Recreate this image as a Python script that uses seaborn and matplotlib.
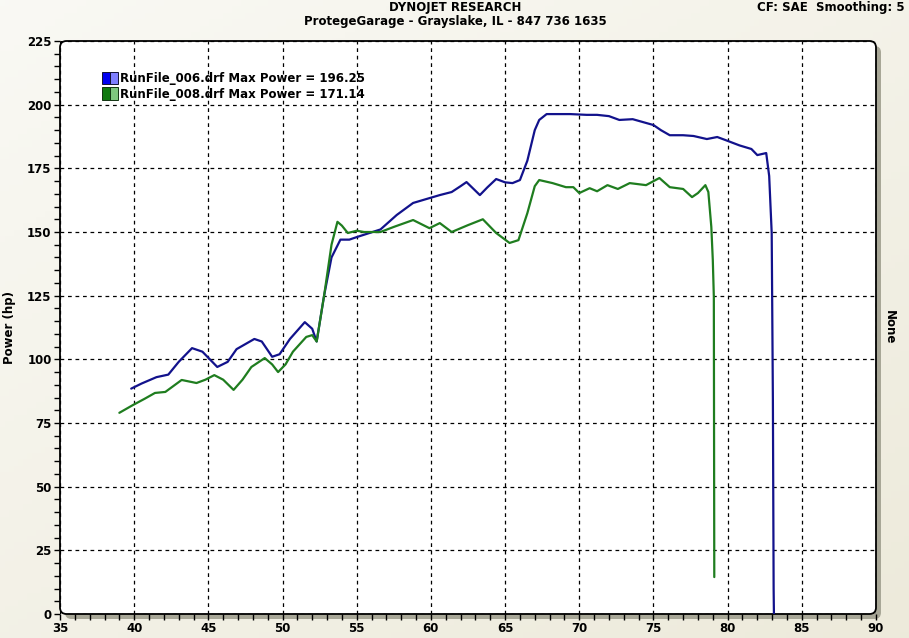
import numpy as np
import pandas as pd
import seaborn as sns
import matplotlib
matplotlib.use('Agg')
import matplotlib.pyplot as plt
from matplotlib.patches import FancyBboxPatch, Patch
from matplotlib.legend_handler import HandlerTuple
from matplotlib.ticker import MultipleLocator
import matplotlib.transforms as mtransforms

# RunFile_006 (blue)
run006_x = [39.8, 40.5, 41.5, 42.3, 43.0, 43.9, 44.6, 45.6, 46.3, 46.9, 48.1, 48.6, 49.3, 49.8,
            50.5, 51.5, 52.0, 52.3, 52.8, 53.3, 53.9, 54.5, 55.0, 55.8, 56.6, 57.7, 58.8, 59.9,
            60.6, 61.4, 62.0, 62.4, 63.3, 63.8, 64.4, 65.0, 65.5, 66.0, 66.5, 67.0, 67.3, 67.8,
            69.4, 70.5, 71.2, 72.0, 72.7, 73.6, 75.0, 75.5, 76.1, 77.0, 77.7, 78.6, 79.3, 79.9,
            80.8, 81.6, 82.0, 82.6, 82.8, 82.97, 83.05, 83.1, 83.12]
run006_hp = [88.5, 90.5, 93.0, 94.0, 99.0, 104.4, 103.0, 97.0, 99.0, 104.0, 108.0, 107.0, 101.0, 102.0,
             108.0, 114.6, 112.0, 107.0, 125.0, 140.0, 147.0, 147.0, 148.0, 149.5, 151.0, 156.7, 161.4, 163.3,
             164.5, 165.7, 168.0, 169.6, 164.5, 167.5, 170.8, 169.5, 169.2, 170.4, 178.0, 190.0, 194.0, 196.3,
             196.3, 196.0, 196.0, 195.5, 194.0, 194.3, 192.0, 190.0, 188.0, 188.0, 187.7, 186.5, 187.3, 186.0,
             184.0, 182.6, 180.2, 181.0, 172.0, 149.6, 84.0, 10.0, 0.0]

# RunFile_008 (green)
run008_x = [39.0, 39.9, 40.7, 41.4, 42.1, 43.2, 44.2, 44.8, 45.4, 46.0, 46.7, 47.3, 47.9, 48.8,
            49.3, 49.7, 50.2, 50.7, 51.6, 52.0, 52.3, 52.8, 53.3, 53.7, 54.0, 54.4, 55.0, 55.5,
            56.6, 57.5, 58.8, 59.9, 60.6, 61.4, 62.5, 63.5, 64.4, 65.3, 65.9, 66.5, 67.0, 67.3,
            68.2, 69.1, 69.6, 70.0, 70.7, 71.2, 71.9, 72.6, 73.4, 74.5, 75.4, 76.1, 77.0, 77.6,
            78.0, 78.5, 78.7, 78.9, 79.0, 79.07, 79.1]
run008_hp = [79.0, 82.0, 84.5, 86.8, 87.2, 91.9, 90.7, 92.0, 93.8, 92.0, 88.0, 92.0, 97.0, 100.5,
             98.0, 95.0, 98.0, 103.0, 108.8, 109.5, 107.0, 125.0, 145.0, 154.0, 152.5, 149.6, 150.5, 150.0,
             150.0, 152.0, 154.7, 151.5, 153.5, 150.0, 152.7, 155.0, 149.6, 145.7, 146.8, 157.4, 168.0, 170.4,
             169.2, 167.6, 167.6, 165.3, 167.2, 166.0, 168.4, 166.9, 169.2, 168.4, 171.2, 167.6, 166.9, 163.7,
             165.3, 168.4, 165.7, 152.0, 139.0, 124.5, 14.5]

labels = ["RunFile_006.drf Max Power = 196.25", "RunFile_008.drf Max Power = 171.14"]
x_ticks = [35, 40, 45, 50, 55, 60, 65, 70, 75, 80, 85, 90]
y_ticks = [0, 25, 50, 75, 100, 125, 150, 175, 200, 225]

sns.set_theme(style="white")
plt.rcParams['font.family'] = ['DejaVu Sans']
plt.rcParams['font.weight'] = 'bold'
plt.rcParams['text.color'] = 'black'
plt.rcParams['axes.labelcolor'] = 'black'
plt.rcParams['xtick.color'] = 'black'
plt.rcParams['ytick.color'] = 'black'

fig = plt.figure(figsize=(9.09, 6.38), dpi=100)

# beige gradient background
bg = fig.add_axes([0, 0, 1, 1], zorder=-10)
gx = np.linspace(0, 1, 200)
grad = np.clip(0.35 * gx[None, :] + 0.65 * np.linspace(0.3, 1, 100)[:, None] * 0.9, 0, 1)
c0 = np.array([0.99, 0.99, 0.98])
c1 = np.array([0.925, 0.913, 0.85])
img = c0[None, None, :] * (1 - grad[..., None]) + c1[None, None, :] * grad[..., None]
bg.imshow(img, aspect='auto', extent=[0, 1, 0, 1], origin='upper')
bg.axis('off')

ax = fig.add_axes([60 / 909, 24 / 638, 816 / 909, 573 / 638])
ax.patch.set_visible(False)
for s in ax.spines.values():
    s.set_visible(False)

# rounded frame with shadow
shadow_tr = mtransforms.offset_copy(ax.transAxes, fig=fig, x=5, y=-5, units='dots')
aspect = 816 / 573
ax.add_patch(FancyBboxPatch((0, 0), 1, 1, boxstyle="round,pad=0,rounding_size=0.008",
                            mutation_aspect=aspect, transform=shadow_tr, facecolor='#a8a797',
                            edgecolor='none', clip_on=False, zorder=-2))
ax.add_patch(FancyBboxPatch((0, 0), 1, 1, boxstyle="round,pad=0,rounding_size=0.008",
                            mutation_aspect=aspect, transform=ax.transAxes, facecolor='white',
                            edgecolor='black', linewidth=1.3, clip_on=False, zorder=-1))

df6 = pd.DataFrame({'rpm': run006_x, 'hp': run006_hp})
df8 = pd.DataFrame({'rpm': run008_x, 'hp': run008_hp})
sns.lineplot(data=df6, x='rpm', y='hp', sort=False, estimator=None, color='#12128c',
             linewidth=1.6, ax=ax, zorder=3)
sns.lineplot(data=df8, x='rpm', y='hp', sort=False, estimator=None, color='#1f7d1f',
             linewidth=1.6, ax=ax, zorder=3)

ax.set_xlim(35, 90)
ax.set_ylim(0, 225)
ax.set_xticks(x_ticks)
ax.set_yticks(y_ticks)
ax.xaxis.set_minor_locator(MultipleLocator(1))
ax.yaxis.set_minor_locator(MultipleLocator(5))
ax.tick_params(axis='both', which='both', direction='out', color='black', width=1,
               bottom=True, left=True, labelsize=8.5, labelcolor='black')
ax.tick_params(axis='both', which='major', length=4, pad=2)
ax.tick_params(axis='both', which='minor', length=4)
ax.grid(True, which='major', color='black', linestyle=(0, (3, 3)), linewidth=0.9)
ax.set_axisbelow(True)
ax.set_xlabel('')
ax.set_ylabel('Power (hp)', fontsize=8.5, fontweight='bold', labelpad=8, color='black')
for t in ax.get_xticklabels() + ax.get_yticklabels():
    t.set_fontweight('bold')

handles = [(Patch(facecolor='#0000f0', edgecolor='#111133', lw=0.7),
            Patch(facecolor='#7f7fff', edgecolor='#111133', lw=0.7)),
           (Patch(facecolor='#0f7a0f', edgecolor='#113311', lw=0.7),
            Patch(facecolor='#7fc77f', edgecolor='#113311', lw=0.7))]
leg = ax.legend(handles, labels, handler_map={tuple: HandlerTuple(ndivide=2, pad=0)},
                loc='upper left', bbox_to_anchor=(0.046, 0.955), borderaxespad=0,
                frameon=False, handlelength=1.35, handleheight=1.3, handletextpad=0.15,
                labelspacing=0.2, prop={'size': 8.5, 'weight': 'bold'})
for t in leg.get_texts():
    t.set_color('black')

fig.text(455 / 909, 1 - 8 / 638, 'DYNOJET RESEARCH', ha='center', va='center',
         fontsize=8.5, fontweight='bold')
fig.text(455 / 909, 1 - 22 / 638, 'ProtegeGarage - Grayslake, IL - 847 736 1635', ha='center',
         va='center', fontsize=8.5, fontweight='bold')
fig.text(905 / 909, 1 - 8 / 638, 'CF: SAE  Smoothing: 5', ha='right', va='center',
         fontsize=8.5, fontweight='bold')
fig.text(889 / 909, 1 - 327 / 638, 'None', rotation=270, ha='center', va='center',
         fontsize=8.5, fontweight='bold')

fig.savefig('out.png', dpi=100)
